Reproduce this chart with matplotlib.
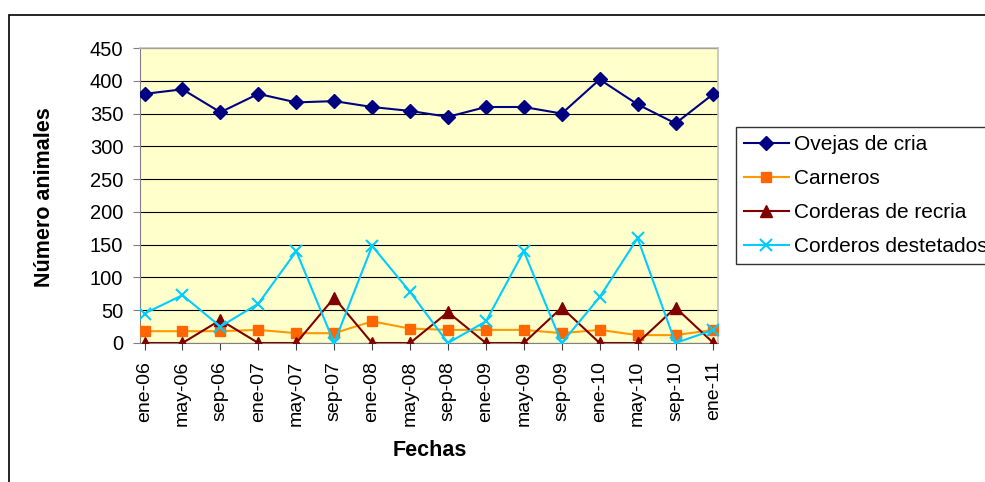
import matplotlib
matplotlib.use("Agg")
import matplotlib.pyplot as plt
from matplotlib.patches import Rectangle

plt.rcParams['font.family'] = ['Liberation Sans', 'DejaVu Sans']

fechas = ["ene-06", "may-06", "sep-06", "ene-07", "may-07", "sep-07", "ene-08", "may-08",
          "sep-08", "ene-09", "may-09", "sep-09", "ene-10", "may-10", "sep-10", "ene-11"]
ovejas = [380, 387, 352, 380, 367, 369, 360, 354, 345, 360, 360, 350, 402, 364, 335, 380]
carneros = [18, 18, 18, 20, 15, 15, 33, 22, 20, 20, 20, 15, 20, 12, 12, 20]
corderas = [0, 0, 35, 0, 0, 69, 0, 0, 47, 0, 0, 54, 0, 0, 54, 0]
corderos = [45, 73, 25, 60, 140, 0, 148, 78, 0, 33, 140, 0, 70, 160, 0, 20]
y_ticks = [0, 50, 100, 150, 200, 250, 300, 350, 400, 450]

W, H = 985, 482
fig = plt.figure(figsize=(W / 100, H / 100), dpi=100)
fig.patch.set_facecolor('white')

# outer chart border (extends past right/bottom edges)
fig.patches.append(Rectangle((9 / W, -0.05), 1.1, 1 - 15 / H + 0.05, transform=fig.transFigure,
                             fill=False, edgecolor='black', linewidth=1.2))

left, right, top, bottom = 140, 718, 48, 343
ax = fig.add_axes([left / W, 1 - bottom / H, (right - left) / W, (bottom - top) / H])
ax.set_facecolor('#FFFFCC')

x = list(range(len(fechas)))
ax.plot(x, ovejas, color='#000080', marker='D', markersize=7, linewidth=1.5, label='Ovejas de cria', zorder=5)
ax.plot(x, carneros, color='#FF9900', marker='s', markersize=7, markerfacecolor='#FF6600',
        markeredgecolor='#FF6600', linewidth=1.5, label='Carneros', zorder=4)
ax.plot(x, corderas, color='#800000', marker='^', markersize=8.5, linewidth=1.5, label='Corderas de recria', zorder=4)
ax.plot(x, corderos, color='#00CCFF', marker='x', markersize=8, markeredgewidth=1.5, linewidth=1.5,
        label='Corderos destetados', zorder=4)

ax.set_xlim(-0.12, len(fechas) - 1 + 0.12)
ax.set_ylim(0, 450)
ax.set_yticks(y_ticks)
ax.set_xticks(x)
ax.set_xticklabels(fechas, rotation=90, fontsize=14)
ax.tick_params(axis='y', labelsize=14.5, length=5, direction='out', pad=7, color='#808080')
ax.tick_params(axis='x', length=5, direction='out', pad=8, color='#404040')
ax.grid(axis='y', color='black', linewidth=0.8)
ax.set_axisbelow(True)
for s in ['top', 'right']:
    ax.spines[s].set_color('#C0C0C0')
    ax.spines[s].set_linewidth(1.2)
ax.spines['left'].set_color('#808080')
ax.spines['bottom'].set_color('#808080')

fig.text(45 / W, 1 - 197 / H, 'Número animales', fontsize=15.5, fontweight='bold',
         rotation=90, ha='center', va='center')
fig.text(430 / W, 1 - 450 / H, 'Fechas', fontsize=15.5, fontweight='bold', ha='center', va='center')

leg = ax.legend(loc='upper left', bbox_to_anchor=(736 / W, 1 - 127 / H), bbox_transform=fig.transFigure,
                borderaxespad=0, frameon=True, fancybox=False, edgecolor='black', fontsize=15,
                handlelength=2.15, labelspacing=0.72, handletextpad=0.25, borderpad=0.38)
leg.get_frame().set_linewidth(1.0)

fig.savefig('out.png', dpi=100)
